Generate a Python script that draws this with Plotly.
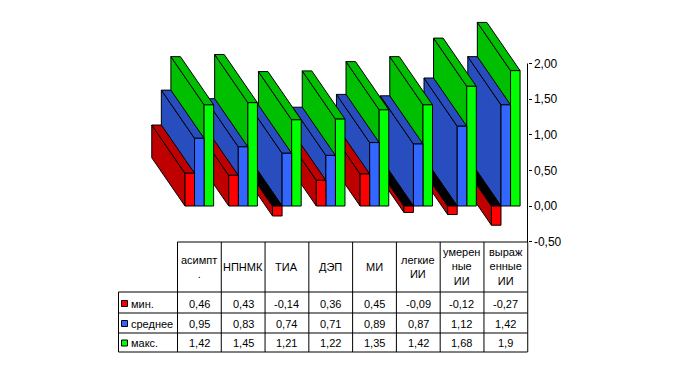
import plotly.graph_objects as go

categories = ["асимпт<br>.", "НПНМК", "ТИА", "ДЭП", "МИ", "легкие<br>ИИ", "умерен<br>ные<br>ИИ", "выраж<br>енные<br>ИИ"]
series_names = ["мин.", "среднее", "макс."]
v_min = [0.46, 0.43, -0.14, 0.36, 0.45, -0.09, -0.12, -0.27]
v_mean = [0.95, 0.83, 0.74, 0.71, 0.89, 0.87, 1.12, 1.42]
v_max = [1.42, 1.45, 1.21, 1.22, 1.35, 1.42, 1.68, 1.90]
tick_vals = [-0.5, 0, 0.5, 1, 1.5, 2]
tick_text = ["-0,50", "0,00", "0,50", "1,00", "1,50", "2,00"]

front_colors = ["#FF0000", "#3366FF", "#00FF00"]
side_colors = ["#BF0000", "#274DBF", "#00BF00"]
W, H = 680, 367
PX_CAT, X0 = 43.78, 199.3       # px per category, px of the first category
PX_VAL, Y0 = 71.25, 206.0       # px per value unit, px of value 0
BAR = 9.55 / PX_CAT             # bar width in category units
DX = -33.2 / PX_CAT             # depth shift in category units
DY = 48.2 / PX_VAL              # depth shift in value units

def face(xs, ys, color):
    return go.Scatter(x=xs + xs[:1], y=ys + ys[:1], mode="lines", fill="toself",
                      fillcolor=color, line=dict(color="black", width=1),
                      hoverinfo="skip", showlegend=False)

def bar_traces(i, s, v):
    left = i + (s - 1.5) * BAR
    right = left + BAR
    low, high = min(v, 0), max(v, 0)
    # top cap sits at the highest level; it is black when the bar hangs below zero
    cap = side_colors[s] if v >= 0 else "#000000"
    return [
        face([left, left, left + DX, left + DX], [low, high, high + DY, low + DY], side_colors[s]),
        face([left, right, right + DX, left + DX], [high, high, high + DY, high + DY], cap),
        face([left, right, right, left], [low, low, high, high], front_colors[s]),
    ]

fig = go.Figure()
rows = [v_min, v_mean, v_max]
for i in range(len(categories) - 1, -1, -1):
    for s in (2, 1, 0):
        for tr in bar_traces(i, s, rows[s][i]):
            fig.add_trace(tr)

def yp(px):
    return 1 - px / H

def xc(px):
    return (px - X0) / PX_CAT

shapes, notes = [], []
def hline(px_y, x0, x1):
    shapes.append(dict(type="line", xref="x", yref="paper", x0=xc(x0), x1=xc(x1), y0=yp(px_y), y1=yp(px_y),
                       line=dict(color="black", width=1)))
def vline(px_x, y0, y1):
    shapes.append(dict(type="line", xref="x", yref="paper", x0=xc(px_x), x1=xc(px_x), y0=yp(y0), y1=yp(y1),
                       line=dict(color="black", width=1)))

T_LEFT, T_FIRST, T_RIGHT = 118.5, 177.5, 527.5
hline(242, T_FIRST, T_RIGHT)
for py in (292, 313, 333, 352):
    hline(py, T_LEFT, T_RIGHT)
vline(T_LEFT, 292, 352)
for k in range(len(categories) + 1):
    vline(T_FIRST + PX_CAT * k, 242, 352)
# value axis line
vline(T_RIGHT, 63.5, 242)

FONT = dict(family="Liberation Sans, Arial, sans-serif", size=11, color="black")
for i, c in enumerate(categories):
    notes.append(dict(x=i, y=yp(266.5), xref="x", yref="paper", text=c, showarrow=False, font=FONT,
                      xanchor="center", yanchor="middle", align="center"))

def fmt(v):
    return f"{v:.2f}".replace(".", ",").rstrip("0")

row_py = [303.5, 323.5, 343]
for s, py in enumerate(row_py):
    notes.append(dict(x=xc(128.5), y=yp(py), xref="x", yref="paper", text=series_names[s], showarrow=False,
                      font=FONT, xanchor="left", yanchor="middle"))
    shapes.append(dict(type="rect", xref="x", yref="paper", x0=xc(121.5), x1=xc(127.5), y0=yp(py - 3), y1=yp(py + 3),
                       fillcolor=front_colors[s], line=dict(color="black", width=1)))
    for i, v in enumerate(rows[s]):
        notes.append(dict(x=i, y=yp(py), xref="x", yref="paper", text=fmt(v), showarrow=False, font=FONT,
                          xanchor="center", yanchor="middle"))

fig.update_layout(
    width=W, height=H, margin=dict(l=0, r=0, t=0, b=0),
    paper_bgcolor="white", plot_bgcolor="white", showlegend=False,
    shapes=shapes, annotations=notes,
    xaxis=dict(range=[xc(0), xc(W)], visible=False, fixedrange=True),
    yaxis=dict(range=[(Y0 - H) / PX_VAL, Y0 / PX_VAL], showgrid=False, zeroline=False, showline=False,
               anchor="free", position=T_RIGHT / W, side="right", ticks="outside", ticklen=3, tickwidth=1,
               tickcolor="black", tickvals=tick_vals, ticktext=tick_text,
               tickfont=dict(family="Liberation Sans, Arial, sans-serif", size=12, color="black"), fixedrange=True),
)
fig.write_html("out.html", config=dict(displayModeBar=False),
               post_script="document.body.style.margin='0';")
